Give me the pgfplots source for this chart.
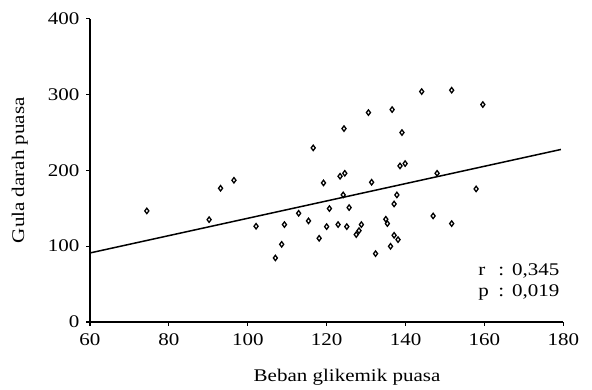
\documentclass[border=0pt]{standalone}
\usepackage{fontspec}
\setmainfont{Liberation Serif}[FakeStretch=1.18]
\usepackage{pgfplots}
\pgfplotsset{compat=1.18}
\begin{document}
\fontsize{17.8}{21}\selectfont
\begin{tikzpicture}
\path[use as bounding box] (-90pt,-67pt) rectangle (502pt,322pt);
\begin{axis}[
  at={(0,0)}, anchor=south west,
  scale only axis, width=473.3pt, height=303.5pt,
  xmin=60, xmax=180, ymin=0, ymax=400,
  xtick={60,80,...,180}, ytick={0,100,...,400},
  axis x line*=bottom, axis y line*=left,
  axis line style={line width=1.5pt, -},
  tick style={line width=1.1pt, black},
  tick align=outside, major tick length=3.5pt,
  /pgf/number format/assume math mode=true,
  ticklabel style={font=\fontsize{17.8}{21}\selectfont},
  xticklabel style={yshift=-2pt},
  yticklabel style={xshift=-1pt},
  xlabel={Beban glikemik puasa},
  ylabel={Gula darah puasa},
  every axis x label/.style={at={(axis description cs:0.543,-0.197)}, anchor=base},
  every axis y label/.style={at={(axis description cs:-0.148,0.5)}, rotate=90, anchor=center},
  label style={font=\fontsize{17.8}{21}\selectfont},
  clip=false,
]
\addplot[only marks, mark=diamond, mark size=2.7pt, mark options={line width=1.3pt, black, fill=white}] coordinates {
(74.4,146.4) (90.2,134.9) (93.1,176.3) (96.5,186.8) (102.1,126.2)
(107.0,84.4) (108.6,102.4) (109.3,128.4) (112.9,143.3) (115.4,133.2)
(116.6,229.5) (118.1,110.3) (119.2,183.3) (120.0,125.7) (120.7,149.5)
(122.9,128.4) (123.4,192.1) (124.6,196.0) (124.2,167.5) (124.4,254.9)
(125.1,125.7) (125.7,150.8) (127.5,115.2) (128.2,120.4) (128.8,128.4)
(130.6,276.0) (131.4,184.2) (132.4,90.1) (135.0,135.4) (135.4,129.7)
(136.2,99.8) (136.6,280.0) (137.1,155.6) (137.1,114.3) (137.8,167.5)
(138.1,108.6) (138.6,205.7) (139.1,249.7) (139.9,208.8) (144.1,303.7)
(147.0,139.8) (148.0,196.0) (151.7,305.5) (151.7,129.7) (157.9,175.4)
(159.6,286.6)
};
\addplot[black, line width=1.5pt, mark=none] coordinates {(60,91) (179.4,227.4)};
\node[anchor=base west, inner sep=0pt, font=\fontsize{17.8}{21}\selectfont] at (axis cs:158.4,61.6) {\makebox[20pt][l]{r}:\hspace{8pt}0,345};
\node[anchor=base west, inner sep=0pt, font=\fontsize{17.8}{21}\selectfont] at (axis cs:158.4,33) {\makebox[20pt][l]{p}:\hspace{8pt}0,019};
\end{axis}
\end{tikzpicture}
\end{document}
